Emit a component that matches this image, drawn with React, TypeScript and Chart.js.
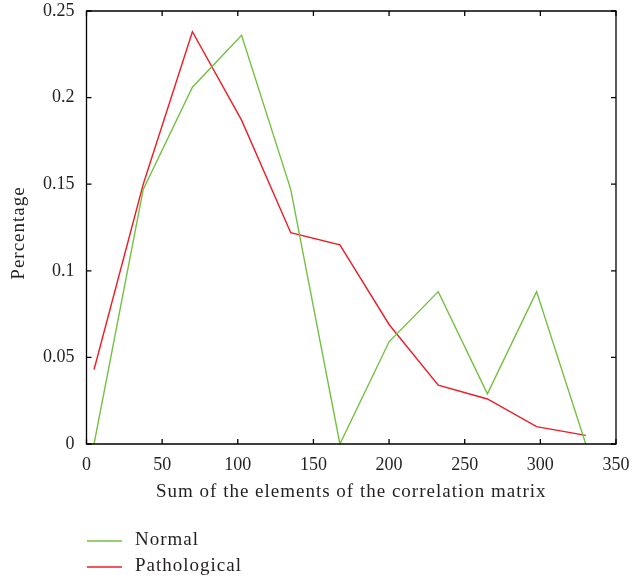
import React, { useEffect, useRef } from "react";
import { Chart, registerables } from "chart.js";

Chart.register(...registerables);

// Sum of the correlation matrix elements (bin centres)
const binCenters = [5, 37.5, 70, 102.5, 135, 167.5, 200, 232.5, 265, 297.5, 330];
const normalPct = [0, 0.147, 0.206, 0.236, 0.147, 0, 0.059, 0.088, 0.029, 0.088, 0];
const pathologicalPct = [0.043, 0.15, 0.238, 0.187, 0.122, 0.115, 0.069, 0.034, 0.026, 0.01, 0.005];

const xTicks = [0, 50, 100, 150, 200, 250, 300, 350];
const yTicks = [0, 0.05, 0.1, 0.15, 0.2, 0.25];
const yTickLabels = ["0", "0.05", "0.1", "0.15", "0.2", "0.25"];

const xTitle = "Sum of the elements of the correlation matrix";
const yTitle = "Percentage";
const seriesNames = ["Normal", "Pathological"];
const seriesColors = ["#74c043", "#ee1c25"];

const FONT = "'Liberation Serif', 'Times New Roman', serif";
const FONT_SIZE = 18;
const TEXT_SIZE = 19;
const TEXT_COLOR = "#231f20";

// Frame with inward ticks on all four sides, axis titles and the legend
const framePlugin = {
  id: "frameAndLegend",
  afterDraw(chart: any) {
    const { ctx, chartArea } = chart;
    const { left, right, top, bottom } = chartArea;
    const xs = chart.scales.x;
    const ys = chart.scales.y;
    const tick = 5;
    ctx.save();
    ctx.strokeStyle = "#000";
    ctx.lineWidth = 1.3;
    ctx.beginPath();
    ctx.rect(left, top, right - left, bottom - top);
    ctx.stroke();
    ctx.beginPath();
    xTicks.forEach((v) => {
      const px = xs.getPixelForValue(v);
      ctx.moveTo(px, bottom);
      ctx.lineTo(px, bottom - tick);
      ctx.moveTo(px, top);
      ctx.lineTo(px, top + tick);
    });
    yTicks.forEach((v) => {
      const py = ys.getPixelForValue(v);
      ctx.moveTo(left, py);
      ctx.lineTo(left + tick, py);
      ctx.moveTo(right, py);
      ctx.lineTo(right - tick, py);
    });
    ctx.stroke();

    ctx.fillStyle = TEXT_COLOR;
    ctx.font = `${TEXT_SIZE}px ${FONT}`;
    (ctx as any).letterSpacing = "1px";
    ctx.textAlign = "center";
    ctx.textBaseline = "middle";
    ctx.fillText(xTitle, (left + right) / 2, 492);

    ctx.save();
    ctx.translate(19, 233);
    ctx.rotate(-Math.PI / 2);
    ctx.fillText(yTitle, 0, 0);
    ctx.restore();

    // legend
    const rows = [541, 567];
    chart.data.datasets.forEach((ds: any, i: number) => {
      const y = rows[i];
      ctx.strokeStyle = ds.borderColor;
      ctx.lineWidth = 1.5;
      ctx.beginPath();
      ctx.moveTo(87, y);
      ctx.lineTo(122, y);
      ctx.stroke();
      ctx.fillStyle = TEXT_COLOR;
      ctx.textAlign = "left";
      ctx.fillText(ds.label, 135, y - 1);
    });
    (ctx as any).letterSpacing = "0px";
    ctx.restore();
  },
};

export default function App() {
  const ref = useRef<HTMLCanvasElement>(null);

  useEffect(() => {
    if (!ref.current) return;
    const toPoints = (vals: number[]) => binCenters.map((x, i) => ({ x, y: vals[i] }));
    const chart = new Chart(ref.current, {
      type: "line",
      data: {
        datasets: [
          {
            label: seriesNames[0],
            data: toPoints(normalPct),
            borderColor: seriesColors[0],
            borderWidth: 1.4,
            pointRadius: 0,
            tension: 0,
            fill: false,
          },
          {
            label: seriesNames[1],
            data: toPoints(pathologicalPct),
            borderColor: seriesColors[1],
            borderWidth: 1.4,
            pointRadius: 0,
            tension: 0,
            fill: false,
          },
        ],
      },
      options: {
        responsive: false,
        animation: false,
        layout: { padding: { left: 0, right: 16, top: 11, bottom: 0 } },
        plugins: {
          legend: { display: false },
          tooltip: { enabled: false },
        },
        scales: {
          x: {
            type: "linear",
            min: 0,
            max: 350,
            afterBuildTicks: (s: any) => {
              s.ticks = xTicks.map((v) => ({ value: v }));
            },
            afterFit: (s: any) => {
              s.height = 139;
              s.paddingLeft = 0;
              s.paddingRight = 0;
            },
            grid: { display: false, drawTicks: false },
            border: { display: false },
            ticks: {
              color: TEXT_COLOR,
              font: { family: FONT, size: FONT_SIZE },
              padding: 10,
              maxRotation: 0,
              callback: (v: any) => String(v),
            },
          },
          y: {
            type: "linear",
            min: 0,
            max: 0.25,
            afterBuildTicks: (s: any) => {
              s.ticks = yTicks.map((v) => ({ value: v }));
            },
            afterFit: (s: any) => {
              s.width = 86.5;
              s.paddingTop = 0;
              s.paddingBottom = 0;
            },
            grid: { display: false, drawTicks: false },
            border: { display: false },
            ticks: {
              color: TEXT_COLOR,
              font: { family: FONT, size: FONT_SIZE },
              padding: 12,
              callback: (v: any) => {
                const idx = yTicks.findIndex((t) => Math.abs(t - v) < 1e-9);
                return idx >= 0 ? yTickLabels[idx] : "";
              },
            },
          },
        },
      },
      plugins: [framePlugin],
    });
    return () => chart.destroy();
  }, []);

  return (
    <div style={{ position: "fixed", left: 0, top: 0, width: 632, height: 583, background: "#fff" }}>
      <canvas ref={ref} width={632} height={583} style={{ display: "block" }} />
    </div>
  );
}
